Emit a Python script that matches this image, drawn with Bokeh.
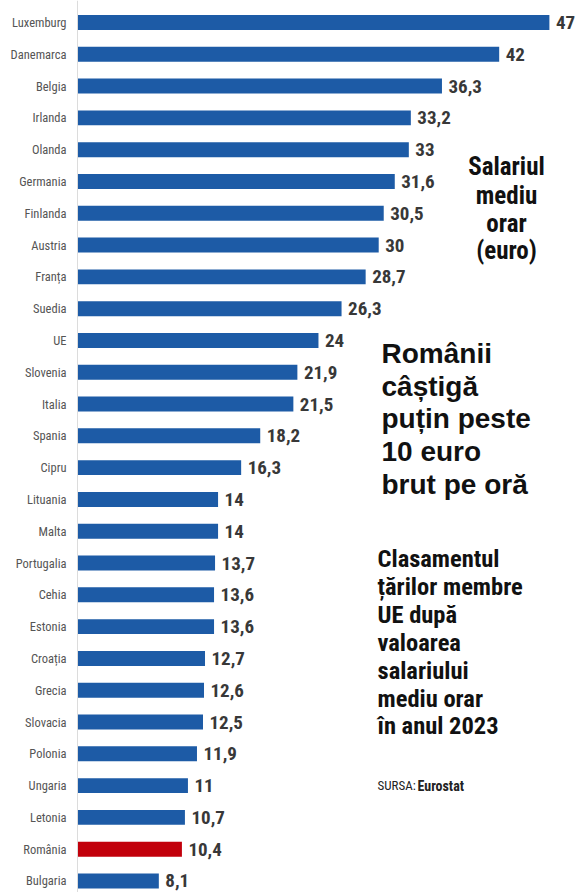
from bokeh.plotting import figure
from bokeh.models import ColumnDataSource, Range1d, Span, Label
from bokeh.core.properties import value
from bokeh.embed import file_html
from bokeh.resources import INLINE

countries = ["Luxemburg", "Danemarca", "Belgia", "Irlanda", "Olanda", "Germania",
             "Finlanda", "Austria", "Franța", "Suedia", "UE", "Slovenia", "Italia",
             "Spania", "Cipru", "Lituania", "Malta", "Portugalia", "Cehia", "Estonia",
             "Croația", "Grecia", "Slovacia", "Polonia", "Ungaria", "Letonia",
             "România", "Bulgaria"]
wages = [47, 42, 36.3, 33.2, 33, 31.6, 30.5, 30, 28.7, 26.3, 24, 21.9, 21.5,
         18.2, 16.3, 14, 14, 13.7, 13.6, 13.6, 12.7, 12.6, 12.5, 11.9, 11, 10.7,
         10.4, 8.1]
value_labels = [("%g" % w).replace(".", ",") for w in wages]
highlight = "România"

BLUE = "#1d5ba6"
RED = "#c2000b"
NARROW = "Roboto Condensed"

colors = [RED if c == highlight else BLUE for c in countries]
idx = list(range(len(countries)))

src = ColumnDataSource(dict(y=idx, v=wages, c=colors, name=countries,
                            lab=value_labels, zero=[0] * len(countries)))

W, H = 576, 892
p = figure(width=W, height=H, output_backend="svg", toolbar_location=None,
           x_range=Range1d(-7.669, 49.70), y_range=Range1d(27.362, -0.6919),
           min_border=0, outline_line_color=None)
p.axis.visible = False
p.grid.visible = False
p.background_fill_color = "white"
p.border_fill_color = "white"

p.add_layout(Span(location=0, dimension="height", line_color="#dcdcdc", line_width=1))

p.hbar(y="y", right="v", left=0, height=0.47, fill_color="c", line_color=None, source=src)

p.text(x="zero", y="y", text="name", source=src, x_offset=-11,
       text_align="right", text_baseline="middle", text_font=value(NARROW),
       text_font_size="12.5px", text_color="#555555")

p.text(x="v", y="y", text="lab", source=src, x_offset=6.5,
       text_align="left", text_baseline="middle", text_font=value(NARROW),
       text_font_size="19px", text_font_style="bold", text_color="#383838")

def lab(text, x, baseline, size, font, style="bold", align="left", color="#111111"):
    p.add_layout(Label(x=x, y=H - baseline, x_units="screen", y_units="screen",
                       text=text, text_font=font, text_font_size=size,
                       text_font_style=style, text_align=align,
                       text_baseline="alphabetic", text_color=color))

for t, b in zip(["Salariul", "mediu", "orar", "(euro)"], [166, 195, 223, 250]):
    lab(t, 506, b, "25px", NARROW, align="center")

for t, b in zip(["Românii", "câștigă", "puțin peste", "10 euro", "brut pe oră"],
                [353, 386, 418, 451, 484]):
    lab(t, 381, b, "28px", "Liberation Sans")

for t, b in zip(["Clasamentul", "țărilor membre", "UE după", "valoarea",
                 "salariului", "mediu orar", "în anul 2023"],
                [558, 586, 614, 642, 670, 698, 725]):
    lab(t, 377, b, "24.5px", NARROW)

lab("SURSA:", 377, 785, "13px", NARROW, style="normal", color="#222222")
lab("Eurostat", 417, 785, "14px", NARROW, style="bold", color="#222222")

open("out.html", "w").write(file_html(p, INLINE))
